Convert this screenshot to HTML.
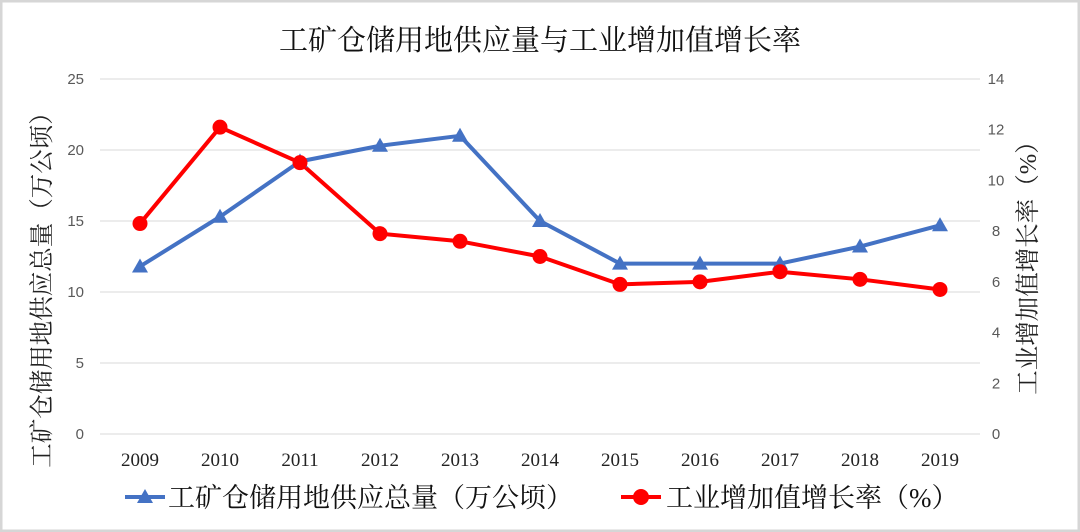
<!DOCTYPE html>
<html><head><meta charset="utf-8"><style>
html,body{margin:0;padding:0;background:#fff}
svg{display:block;font-family:"Liberation Serif","Noto Serif CJK SC",serif}
</style></head><body>
<svg id="c" width="1080" height="532" viewBox="0 0 1080 532">
<rect x="1" y="1" width="1078" height="530" fill="#fff" stroke="#d6d6d6" stroke-width="3"/>
<text x="540" y="50" text-anchor="middle" font-size="29" fill="#111">工矿仓储用地供应量与工业增加值增长率</text>
<g id="grid"></g><g id="axes"></g><g id="series"></g>
<text transform="translate(50,284) rotate(-90)" text-anchor="middle" font-size="24.5" fill="#222">工矿仓储用地供应总量（万公顷）</text>
<text transform="translate(1036,262) rotate(-90)" text-anchor="middle" font-size="24.5" fill="#222">工业增加值增长率（%）</text>
<g>
<g>
<line x1="125" y1="497" x2="165" y2="497" stroke="#4472c4" stroke-width="4"/>
<polygon points="145,489 153,503 137,503" fill="#4472c4"/>
<text x="168" y="507" font-size="27" fill="#111">工矿仓储用地供应总量（万公顷）</text></g>
<g>
<line x1="621" y1="497" x2="661" y2="497" stroke="#ff0000" stroke-width="4"/>
<circle cx="641" cy="497" r="8" fill="#ff0000"/>
<text x="666" y="507" font-size="27" fill="#111">工业增加值增长率（%）</text></g>
</g>
</svg>
<script>
const years=["2009","2010","2011","2012","2013","2014","2015","2016","2017","2018","2019"];
const supply=[11.8,15.3,19.2,20.3,21.0,15.0,12.0,12.0,12.0,13.2,14.7];
const growth=[8.3,12.1,10.7,7.9,7.6,7.0,5.9,6.0,6.4,6.1,5.7];
const leftTicks=[0,5,10,15,20,25];
const rightTicks=[0,2,4,6,8,10,12,14];
const NS="http://www.w3.org/2000/svg";
const x=i=>140+i*80;
const yL=v=>434-v*(355/25);
const yR=v=>434-v*(355/14);
function mk(tag,attrs,parent,txt){const e=document.createElementNS(NS,tag);for(const k in attrs)e.setAttribute(k,attrs[k]);if(txt!==undefined)e.textContent=txt;document.getElementById(parent).appendChild(e);return e;}
leftTicks.forEach(t=>{
 const g=mk('line',{x1:100,x2:980,y1:yL(t),y2:yL(t),stroke:'#d9d9d9','stroke-width':1},'grid');
 
 
 const l=mk('text',{x:84,y:yL(t)+5,'text-anchor':'end','font-size':15,fill:'#595959','font-family':'Liberation Sans, sans-serif'},'axes',t);
 
 
});
rightTicks.forEach(t=>{
 const l=mk('text',{x:996,y:yR(t)+5,'text-anchor':'middle','font-size':15,fill:'#595959','font-family':'Liberation Sans, sans-serif'},'axes',t);
 
 
});
years.forEach((yr,i)=>{
 const l=mk('text',{x:x(i),y:466,'text-anchor':'middle','font-size':19,fill:'#222'},'axes',yr);
 
 
});
const pb=mk('polyline',{points:supply.map((v,i)=>x(i)+','+yL(v)).join(' '),fill:'none',stroke:'#4472c4','stroke-width':4,'stroke-linejoin':'round'},'series');


const pr=mk('polyline',{points:growth.map((v,i)=>x(i)+','+yR(v)).join(' '),fill:'none',stroke:'#ff0000','stroke-width':4,'stroke-linejoin':'round'},'series');


supply.forEach((v,i)=>{
 const cx=x(i),cy=yL(v);
 const p=mk('polygon',{points:`${cx},${cy-8} ${cx+8},${cy+6} ${cx-8},${cy+6}`,fill:'#4472c4'},'series');
 
 
});
growth.forEach((v,i)=>{
 const c=mk('circle',{cx:x(i),cy:yR(v),r:7.5,fill:'#ff0000'},'series');
 
 
});
</script>
</body></html>
